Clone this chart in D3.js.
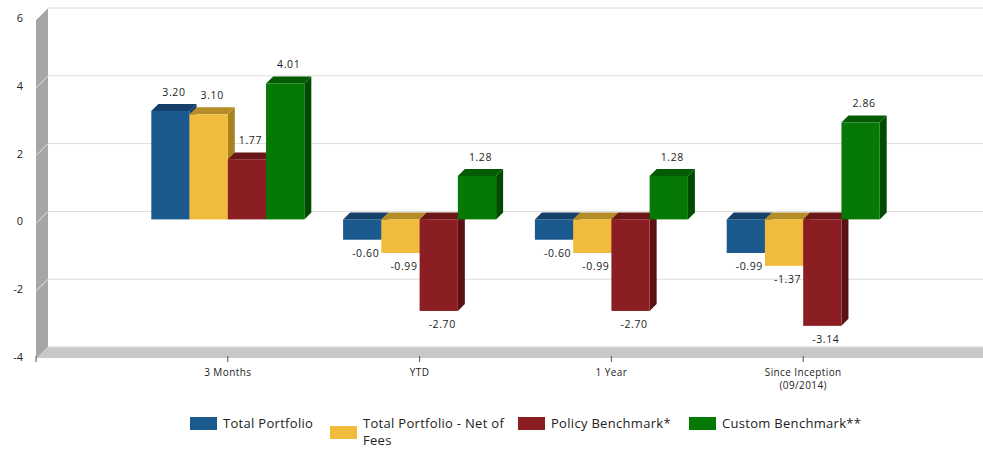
<!DOCTYPE html>
<html lang="en">
  <head>
    <meta charset="utf-8">
    <script src="https://d3js.org/d3.v7.min.js"></script>
    <style>
      body { margin: 0; background: #fff; }
      text { font-family: "Open Sans", sans-serif; fill: #222; }
    </style>
  </head>
  <body>
    <div id="chart">
      <svg width="983" height="449"></svg>
    </div>
    <script type="text/javascript">
      // Data
      var categories = ["3 Months", "YTD", "1 Year", "Since Inception|(09/2014)"];
      var seriesNames = ["Total Portfolio", "Total Portfolio - Net of|Fees", "Policy Benchmark*", "Custom Benchmark**"];
      var totalPortfolio = [3.20, -0.60, -0.60, -0.99];
      var netOfFees = [3.10, -0.99, -0.99, -1.37];
      var policyBenchmark = [1.77, -2.70, -2.70, -3.14];
      var customBenchmark = [4.01, 1.28, 1.28, 2.86];
      var yTicks = [-4, -2, 0, 2, 4, 6];

      var seriesValues = [totalPortfolio, netOfFees, policyBenchmark, customBenchmark];
      var colors = [
        {front: "#1b5a8e", top: "#15406a", side: "#113a60"},
        {front: "#f1bb3b", top: "#b58c28", side: "#a8821f"},
        {front: "#8b1e22", top: "#6b1619", side: "#5a1214"},
        {front: "#067806", top: "#045b04", side: "#004b00"}
      ];

      var svg = d3.select("svg"),
        width = +svg.attr("width"),
        height = +svg.attr("height");

      // 3D depth of walls and bars
      var wallDepth = 12, barDepth = 7, barShift = 8;

      // Scales (back plane)
      var yScale = d3.scaleLinear()
        .domain([-4, 6])
        .range([347, 8]);
      var xScale = d3.scalePoint()
        .domain(categories)
        .range([36, 995])
        .padding(1);
      var xInner = d3.scaleBand()
        .domain(d3.range(seriesNames.length))
        .range([-76.5, 76.5]);

      // Gridlines on back wall
      svg.append("g").selectAll("line")
        .data(yTicks)
        .enter().append("line")
        .attr("x1", 48).attr("x2", width)
        .attr("y1", d => yScale(d)).attr("y2", d => yScale(d))
        .style("stroke", "#dcdcdc");

      // Left wall
      var yTop = yScale(6), yBot = yScale(-4);
      svg.append("path")
        .attr("d", `M36,${yTop + wallDepth} L48,${yTop} L48,${yBot} L36,${yBot + wallDepth} Z`)
        .style("fill", "#a6a6a6");
      svg.append("g").selectAll("line")
        .data(yTicks)
        .enter().append("line")
        .attr("x1", 36).attr("x2", 48)
        .attr("y1", d => yScale(d) + wallDepth).attr("y2", d => yScale(d))
        .style("stroke", "#e6e6e6");

      // Floor
      svg.append("path")
        .attr("d", `M48,${yBot} L${width},${yBot} L${width},${yBot + wallDepth - 1} L36,${yBot + wallDepth - 1} Z`)
        .style("fill", "#c8c8c8");
      svg.append("line")
        .attr("x1", 48).attr("x2", width)
        .attr("y1", yBot).attr("y2", yBot)
        .style("stroke", "#e2e2e2");

      // Y labels
      svg.append("g").selectAll("text")
        .data(yTicks)
        .enter().append("text")
        .attr("x", 23)
        .attr("y", d => yScale(d) + 14)
        .attr("text-anchor", "end")
        .style("font-size", "11px")
        .text(d => d);

      // X ticks and labels
      var xTickPos = [36].concat(categories.map(c => xScale(c)));
      svg.append("g").selectAll("line")
        .data(xTickPos)
        .enter().append("line")
        .attr("x1", d => d).attr("x2", d => d)
        .attr("y1", yBot + 9).attr("y2", yBot + 15)
        .style("stroke", "#555");
      var xl = svg.append("g").selectAll("text")
        .data(categories)
        .enter().append("text")
        .attr("x", d => xScale(d))
        .attr("y", 376)
        .attr("text-anchor", "middle")
        .style("font-size", "10px")
        .style("letter-spacing", "0.4px");
      xl.each(function(d) {
        var parts = d.split("|");
        var t = d3.select(this);
        parts.forEach(function(p, i) {
          t.append("tspan").attr("x", xScale(d)).attr("dy", i ? 13 : 0).text(p);
        });
      });

      // Bars
      var y0 = yScale(0) + barShift;
      var bars = svg.append("g");
      categories.forEach(function(cat, ci) {
        seriesValues.forEach(function(vals, si) {
          var v = vals[ci];
          var x = xScale(cat) + xInner(si);
          var w = xInner.bandwidth();
          var yv = yScale(v) + barShift;
          var top = Math.min(yv, y0), bot = Math.max(yv, y0);
          var c = colors[si];
          // side
          bars.append("path")
            .attr("d", `M${x + w},${top} L${x + w + barDepth},${top - barDepth} L${x + w + barDepth},${bot - barDepth} L${x + w},${bot} Z`)
            .style("fill", c.side);
          // top
          bars.append("path")
            .attr("d", `M${x},${top} L${x + barDepth},${top - barDepth} L${x + w + barDepth},${top - barDepth} L${x + w},${top} Z`)
            .style("fill", c.top);
          // front
          bars.append("rect")
            .attr("x", x).attr("y", top)
            .attr("width", w).attr("height", bot - top)
            .style("fill", c.front);
          // value label
          bars.append("text")
            .attr("x", x + w / 2 + barDepth / 2)
            .attr("y", v >= 0 ? yScale(v) - 7 : yv + 17)
            .attr("text-anchor", "middle")
            .style("font-size", "10.5px")
            .style("letter-spacing", "0.6px")
            .text(v.toFixed(2));
        });
      });

      // Legend
      var legendX = [190, 330, 518, 689];
      var legend = svg.append("g");
      seriesNames.forEach(function(name, i) {
        var parts = name.split("|");
        var sy = parts.length > 1 ? 426 : 417;
        legend.append("rect")
          .attr("x", legendX[i]).attr("y", sy)
          .attr("width", 27).attr("height", 13)
          .style("fill", colors[i].front);
        var t = legend.append("text")
          .attr("x", legendX[i] + 33)
          .attr("y", 428)
          .style("font-size", "13px")
          .style("letter-spacing", "0.3px");
        parts.forEach(function(p, j) {
          t.append("tspan").attr("x", legendX[i] + 33).attr("dy", j ? 17 : 0).text(p);
        });
      });
    </script>
  </body>
</html>
